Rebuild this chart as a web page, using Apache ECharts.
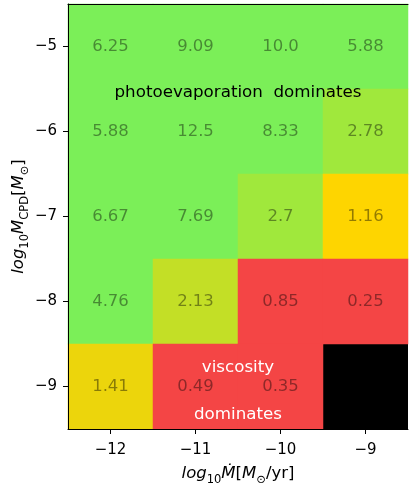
<!DOCTYPE html>
<html><head><meta charset="utf-8">
<script src="https://cdn.jsdelivr.net/npm/echarts@6/dist/echarts.min.js"></script>
<style>html,body{margin:0;padding:0;background:#fff}#c{width:409px;height:488px}</style>
</head><body><div id="c"></div>
<script>
var xCats = ['\u221212', '\u221211', '\u221210', '\u22129'];
var yCats = ['\u22125', '\u22126', '\u22127', '\u22128', '\u22129'];
var row5 = [6.25, 9.09, 10.0, 5.88];
var row6 = [5.88, 12.5, 8.33, 2.78];
var row7 = [6.67, 7.69, 2.7, 1.16];
var row8 = [4.76, 2.13, 0.85, 0.25];
var row9 = [1.41, 0.49, 0.35, null];
var labels5 = ['6.25', '9.09', '10.0', '5.88'];
var labels6 = ['5.88', '12.5', '8.33', '2.78'];
var labels7 = ['6.67', '7.69', '2.7', '1.16'];
var labels8 = ['4.76', '2.13', '0.85', '0.25'];
var labels9 = ['1.41', '0.49', '0.35', ''];

var rows = [row5, row6, row7, row8, row9];
var labelRows = [labels5, labels6, labels7, labels8, labels9];
var data = [];
rows.forEach(function (r, yi) {
  r.forEach(function (v, xi) {
    data.push({ value: [xi, yi, v == null ? '-' : v], lbl: labelRows[yi][xi] });
  });
});

var FONT = 'DejaVu Sans';
var chart = echarts.init(document.getElementById('c'), null, { renderer: 'canvas' });
var rich = {
  i: { fontFamily: FONT, fontSize: 16.5, fontStyle: 'italic', color: '#000', lineHeight: 22, verticalAlign: 'bottom' },
  n: { fontFamily: FONT, fontSize: 16.5, color: '#000', lineHeight: 22, verticalAlign: 'bottom' },
  s: { fontFamily: FONT, fontSize: 11.5, color: '#000', lineHeight: 16, verticalAlign: 'bottom', padding: [0, 0, -4, 0] }
};
chart.setOption({
  animation: false,
  grid: { left: 68, top: 4, right: 1, bottom: 59, show: true, backgroundColor: '#000', borderWidth: 0,
          containLabel: false, outerBoundsMode: 'none' },
  xAxis: [{
    type: 'category', data: xCats, position: 'bottom',
    axisLine: { show: true, lineStyle: { color: '#000', width: 1 } },
    axisTick: { show: true, alignWithLabel: true, length: 5, lineStyle: { color: '#000' } },
    axisLabel: { fontFamily: FONT, fontSize: 15, color: '#000', margin: 14 },
    splitLine: { show: false },
    name: '{i|log}{s|10}{i|\u1E40}{n|[}{i|M}{s|\u2299}{n|/yr]}',
    nameLocation: 'middle', nameGap: 31,
    nameTextStyle: { rich: rich }, z: 10
  }, {
    type: 'category', data: xCats, position: 'top',
    axisLine: { show: true, lineStyle: { color: '#000', width: 1 } },
    axisTick: { show: false }, axisLabel: { show: false }, z: 10
  }],
  yAxis: [{
    type: 'category', data: yCats, inverse: true,
    axisLine: { show: true, lineStyle: { color: '#000', width: 1 } },
    axisTick: { show: true, alignWithLabel: true, length: 5, lineStyle: { color: '#000' } },
    axisLabel: { fontFamily: FONT, fontSize: 15, color: '#000', margin: 11 },
    splitLine: { show: false },
    name: '{i|log}{s|10}{i|M}{s|CPD}{n|[}{i|M}{s|\u2299}{n|]}',
    nameLocation: 'middle', nameGap: 41, nameRotate: 90, nameMoveOverlap: false,
    nameTextStyle: { rich: rich }, z: 10
  }],
  visualMap: {
    show: false, type: 'piecewise', dimension: 2, seriesIndex: 0,
    pieces: [
      { gte: 3, color: '#7bef58' },
      { gte: 2.5, lt: 3, color: '#a0e83c' },
      { gte: 2, lt: 2.5, color: '#c3df26' },
      { gte: 1.3, lt: 2, color: '#ecd50c' },
      { gte: 1, lt: 1.3, color: '#fed500' },
      { lt: 1, color: '#f44545' }
    ]
  },
  series: [{
    type: 'heatmap', data: data,
    label: {
      show: true, fontFamily: FONT, fontSize: 16.5, color: 'rgba(0,0,0,0.42)',
      formatter: function (p) { return p.data.lbl; }
    },
    itemStyle: { borderWidth: 0 },
    emphasis: { disabled: true }
  }]
});

var p0 = chart.convertToPixel({ xAxisIndex: 0, yAxisIndex: 0 }, [0, 0]);
var p1 = chart.convertToPixel({ xAxisIndex: 0, yAxisIndex: 0 }, [1, 1]);
var dx = p1[0] - p0[0], dy = p1[1] - p0[1];
function at(fx, fy) { return [p0[0] + fx * dx, p0[1] + fy * dy]; }
var a = at(1.5, 0.54), b = at(1.5, 3.78), c = at(1.5, 4.33);
chart.setOption({
  graphic: [
    { type: 'text', x: a[0], y: a[1], z: 100, style: { text: 'photoevaporation  dominates', fontFamily: FONT, fontSize: 16.7, fill: '#000', align: 'center', verticalAlign: 'middle' } },
    { type: 'text', x: b[0], y: b[1], z: 100, style: { text: 'viscosity', fontFamily: FONT, fontSize: 16.7, fill: '#fff', align: 'center', verticalAlign: 'middle' } },
    { type: 'text', x: c[0], y: c[1], z: 100, style: { text: 'dominates', fontFamily: FONT, fontSize: 16.7, fill: '#fff', align: 'center', verticalAlign: 'middle' } }
  ]
});
</script></body></html>
